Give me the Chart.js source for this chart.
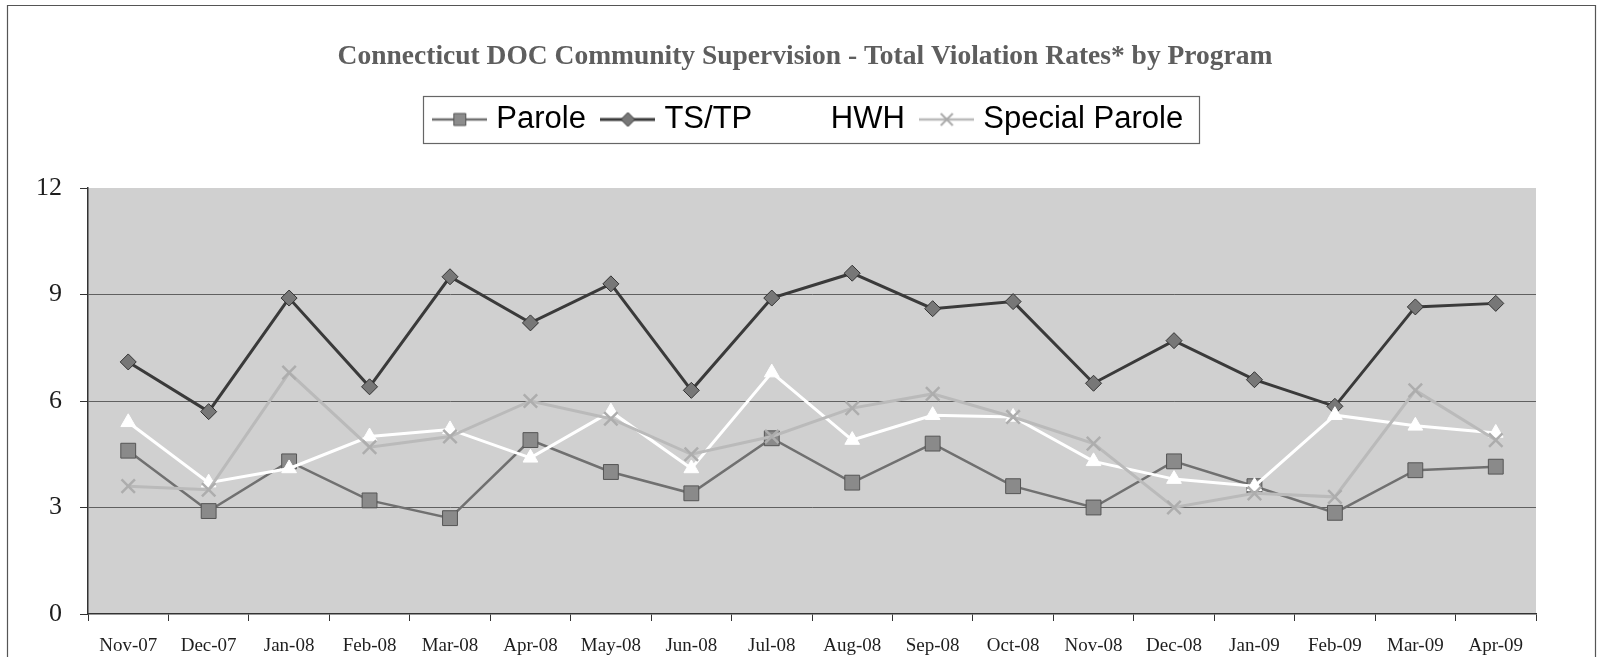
<!DOCTYPE html>
<html><head><meta charset="utf-8">
<script src="https://cdn.jsdelivr.net/npm/chart.js@4.4.1/dist/chart.umd.min.js"></script>
<style>html,body{margin:0;padding:0;background:#fff;overflow:hidden}#wrap{width:1600px;height:657px}</style>
</head><body><div id="wrap"><canvas id="c" width="1600" height="657"></canvas></div>
<script>
const titleText = 'Connecticut DOC Community Supervision - Total Violation Rates* by Program';
const months = ['Nov-07','Dec-07','Jan-08','Feb-08','Mar-08','Apr-08','May-08','Jun-08','Jul-08','Aug-08','Sep-08','Oct-08','Nov-08','Dec-08','Jan-09','Feb-09','Mar-09','Apr-09'];
const seriesNames = ['Parole','TS/TP','HWH','Special Parole'];
const paroleRates = [4.6, 2.9, 4.3, 3.2, 2.7, 4.9, 4.0, 3.4, 4.95, 3.7, 4.8, 3.6, 3.0, 4.3, 3.6, 2.85, 4.05, 4.15];
const tstpRates = [7.1, 5.7, 8.9, 6.4, 9.5, 8.2, 9.3, 6.3, 8.9, 9.6, 8.6, 8.8, 6.5, 7.7, 6.6, 5.85, 8.65, 8.75];
const hwhRates = [5.4, 3.7, 4.1, 5.0, 5.2, 4.4, 5.7, 4.1, 6.8, 4.9, 5.6, 5.55, 4.3, 3.8, 3.6, 5.6, 5.3, 5.1];
const specialParoleRates = [3.6, 3.5, 6.8, 4.7, 5.0, 6.0, 5.5, 4.5, 5.0, 5.8, 6.2, 5.55, 4.8, 3.0, 3.4, 3.3, 6.3, 4.9];
const yTicks = [0, 3, 6, 9, 12];

function legendIcon(kind, lineColor, lineWidth, fill, stroke) {
  const c = document.createElement('canvas');
  c.width = 55; c.height = 22;
  const g = c.getContext('2d');
  const cx = 27.5, cy = 11;
  g.strokeStyle = lineColor; g.lineWidth = lineWidth;
  g.beginPath(); g.moveTo(0, cy); g.lineTo(55, cy); g.stroke();
  g.fillStyle = fill; g.strokeStyle = stroke; g.lineWidth = 1;
  g.beginPath();
  if (kind === 'rect') {
    g.rect(cx - 6, cy - 6, 12, 12);
    g.fill(); g.stroke();
  } else if (kind === 'diamond') {
    g.moveTo(cx, cy - 7); g.lineTo(cx + 7, cy); g.lineTo(cx, cy + 7); g.lineTo(cx - 7, cy); g.closePath();
    g.fill(); g.stroke();
  } else if (kind === 'triangle') {
    g.moveTo(cx, cy - 7); g.lineTo(cx + 6.5, cy + 4.5); g.lineTo(cx - 6.5, cy + 4.5); g.closePath();
    g.fill(); g.stroke();
  } else if (kind === 'x') {
    g.lineWidth = 2;
    g.moveTo(cx - 6, cy - 6); g.lineTo(cx + 6, cy + 6);
    g.moveTo(cx + 6, cy - 6); g.lineTo(cx - 6, cy + 6);
    g.stroke();
  }
  return c;
}

const icons = [
  legendIcon('rect', '#707070', 2.5, '#8c8c8c', '#555555'),
  legendIcon('diamond', '#3a3a3a', 3, '#777777', '#333333'),
  legendIcon('triangle', '#ffffff', 3, '#ffffff', '#ffffff'),
  legendIcon('x', '#bababa', 2.5, '#b0b0b0', '#aaaaaa')
];

const framePlugin = {
  id: 'frame',
  beforeDraw(chart) {
    const {ctx, chartArea: a} = chart;
    ctx.save();
    ctx.fillStyle = '#ffffff';
    ctx.fillRect(0, 0, chart.width, chart.height);
    ctx.strokeStyle = '#555555'; ctx.lineWidth = 1.2;
    ctx.beginPath();
    ctx.moveTo(7.5, 657); ctx.lineTo(7.5, 5.5); ctx.lineTo(1595.5, 5.5); ctx.lineTo(1595.5, 657);
    ctx.stroke();
    ctx.fillStyle = '#d0d0d0';
    ctx.fillRect(a.left, a.top, a.right - a.left, a.bottom - a.top);
    ctx.restore();
  },
  afterDraw(chart) {
    const hb = chart.legend.legendHitBoxes;
    if (!hb || !hb.length) return;
    const first = hb[0], last = hb[hb.length - 1];
    const midY = first.top + first.height / 2;
    const ctx = chart.ctx;
    ctx.save();
    ctx.strokeStyle = '#666666'; ctx.lineWidth = 1.2;
    const l = Math.round(first.left - 15.5) + 0.5;
    const r = Math.round(last.left + last.width + 16) + 0.5;
    ctx.strokeRect(l, Math.round(midY - 24) + 0.5, r - l, 47);
    ctx.restore();
  }
};

const legendSpacer = {
  id: 'legendSpacer',
  beforeInit(chart) {
    const fit = chart.legend.fit;
    chart.legend.fit = function () {
      fit.call(this);
      this.height += 43;
      if (this.lineWidths && this.lineWidths.length) this.lineWidths[0] -= 12;
    };
  }
};

const datasets = [
  { label: seriesNames[0], data: paroleRates, order: 4,
    borderColor: '#707070', borderWidth: 2.5, pointStyle: 'rect', pointRadius: 10.5,
    pointBackgroundColor: '#8a8a8a', pointBorderColor: '#555555', pointBorderWidth: 1 },
  { label: seriesNames[1], data: tstpRates, order: 3,
    borderColor: '#3a3a3a', borderWidth: 3, pointStyle: 'rectRot', pointRadius: 8,
    pointBackgroundColor: '#777777', pointBorderColor: '#333333', pointBorderWidth: 1 },
  { label: seriesNames[2], data: hwhRates, order: 2,
    borderColor: '#ffffff', borderWidth: 3, pointStyle: 'triangle', pointRadius: 8.5,
    pointBackgroundColor: '#ffffff', pointBorderColor: '#ffffff', pointBorderWidth: 1 },
  { label: seriesNames[3], data: specialParoleRates, order: 1,
    borderColor: '#bababa', borderWidth: 3, pointStyle: 'crossRot', pointRadius: 9.5,
    pointBackgroundColor: '#b0b0b0', pointBorderColor: '#adadad', pointBorderWidth: 2.5 }
];

new Chart(document.getElementById('c'), {
  type: 'line',
  data: { labels: months, datasets: datasets },
  plugins: [framePlugin, legendSpacer],
  options: {
    responsive: false, animation: false, devicePixelRatio: 1,
    layout: { padding: { top: 10, left: 10, right: 0, bottom: 0 } },
    elements: { line: { tension: 0 } },
    plugins: {
      tooltip: { enabled: false },
      title: { display: true, text: titleText, color: '#5e5e5e',
        font: { family: 'Liberation Serif', size: 27.5, weight: 'bold' },
        padding: { top: 30, bottom: 10 } },
      legend: { display: true, position: 'top',
        labels: {
          usePointStyle: true, pointStyleWidth: 42, padding: 21, color: '#444444',
          font: { family: 'Liberation Sans', size: 31 },
          generateLabels: (chart) => seriesNames.map((n, i) => ({
            text: n, pointStyle: icons[i], datasetIndex: i, hidden: false,
            fillStyle: '#fff', strokeStyle: '#fff', lineWidth: 0
          }))
        } }
    },
    scales: {
      x: { offset: true,
        grid: { offset: true, drawOnChartArea: false, drawTicks: true, tickLength: 7, color: '#333333', lineWidth: 1 },
        border: { display: true, color: '#333333', width: 1.5 },
        ticks: { font: { family: 'Liberation Serif', size: 19 }, color: '#1e1e1e', padding: 14, maxRotation: 0, autoSkip: false },
        afterFit(s) { s.height = 43; } },
      y: { min: 0, max: 12,
        afterBuildTicks(s) { s.ticks = yTicks.map(v => ({ value: v })); },
        ticks: { font: { family: 'Liberation Serif', size: 26 }, color: '#1e1e1e', padding: 18 },
        grid: { color: (c) => (c.tick && (c.tick.value === 0 || c.tick.value === 12)) ? 'rgba(0,0,0,0)' : '#606060',
          tickColor: '#333333', tickLength: 8, lineWidth: 1 },
        border: { color: '#333333', width: 1.5 },
        afterFit(s) { s.width = 78; } },
      y2: { position: 'right', display: true,
        grid: { display: false, drawOnChartArea: false }, border: { display: false },
        ticks: { display: false }, afterFit(s) { s.width = 64; } }
    }
  }
});
</script></body></html>
